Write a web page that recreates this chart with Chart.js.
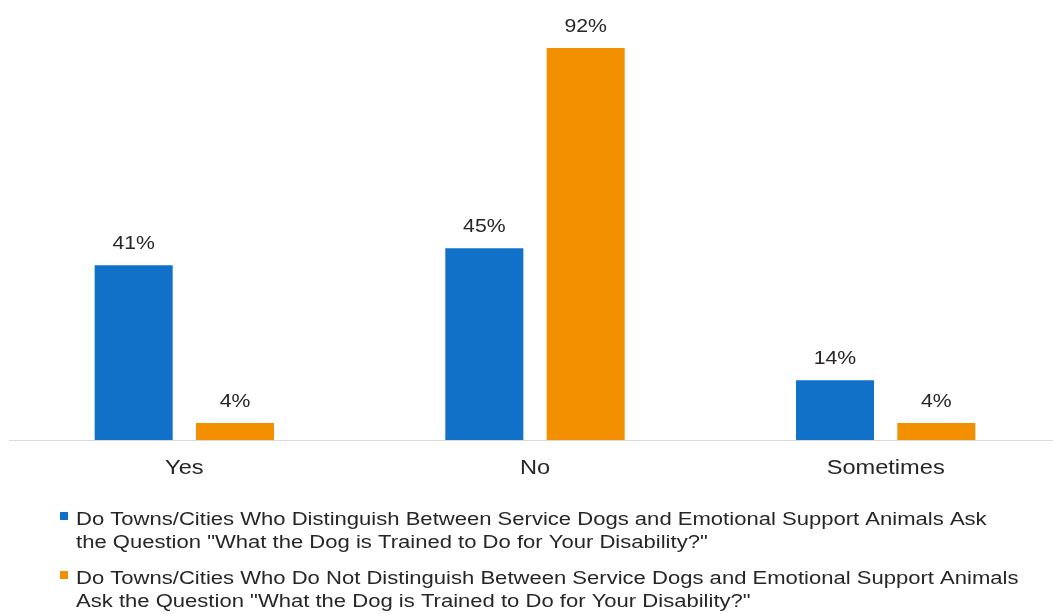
<!DOCTYPE html>
<html>
<head>
<meta charset="utf-8">
<script src="https://cdn.jsdelivr.net/npm/chart.js@4"></script>
<style>
  html, body { margin: 0; padding: 0; background: #ffffff; overflow: hidden; }
  #wrap { width: 1053px; height: 614px; overflow: hidden; position: relative; }
  canvas { display: block; }
</style>
</head>
<body>
<div id="wrap"><canvas id="chart" width="1062" height="614"></canvas></div>
<script>
// Survey answers, in percent
const categories = ['Yes', 'No', 'Sometimes'];
const distinguishValues = [41, 45, 14];
const notDistinguishValues = [4, 92, 4];

const seriesNames = [
  'Do Towns/Cities Who Distinguish Between Service Dogs and Emotional Support Animals Ask the Question "What the Dog is Trained to Do for Your Disability?"',
  'Do Towns/Cities Who Do Not Distinguish Between Service Dogs and Emotional Support Animals Ask the Question "What the Dog is Trained to Do for Your Disability?"'
];
// Legend text broken into display lines
const legendLines = [
  ['Do Towns/Cities Who Distinguish Between Service Dogs and Emotional Support Animals Ask',
   'the Question "What the Dog is Trained to Do for Your Disability?"'],
  ['Do Towns/Cities Who Do Not Distinguish Between Service Dogs and Emotional Support Animals',
   'Ask the Question "What the Dog is Trained to Do for Your Disability?"']
];

const BLUE = '#1170c8';
const ORANGE = '#f29000';
const TEXT = '#262626';
const FONT = '"Liberation Sans", Arial, sans-serif';
const SX = 1.18; // horizontal text stretch

function stretchedText(ctx, text, x, y, align, size) {
  ctx.save();
  ctx.font = size + 'px ' + FONT;
  ctx.fillStyle = TEXT;
  ctx.textAlign = align;
  ctx.textBaseline = 'alphabetic';
  ctx.translate(x, y);
  ctx.scale(SX, 1);
  ctx.fillText(text, 0, 0);
  ctx.restore();
}

// Percent labels above each bar
const valueLabels = {
  id: 'valueLabels',
  afterDatasetsDraw(chart) {
    const ctx = chart.ctx;
    chart.data.datasets.forEach((ds, i) => {
      chart.getDatasetMeta(i).data.forEach((bar, j) => {
        stretchedText(ctx, ds.data[j] + '%', bar.x, bar.y - 16, 'center', 18);
      });
    });
  }
};

// Category names under the axis
const categoryLabels = {
  id: 'categoryLabels',
  afterDraw(chart) {
    const xs = chart.scales.x;
    chart.data.labels.forEach((lab, i) => {
      stretchedText(chart.ctx, lab, xs.getPixelForValue(i), 474, 'center', 20);
    });
  }
};

// Two-line legend below the chart
const wrappedLegend = {
  id: 'wrappedLegend',
  afterDraw(chart) {
    const ctx = chart.ctx;
    chart.data.datasets.forEach((ds, i) => {
      const base = 525 + i * 59;
      ctx.fillStyle = ds.backgroundColor;
      ctx.fillRect(60, base - 13, 8, 8);
      legendLines[i].forEach((line, j) => {
        stretchedText(ctx, line, 76, base + j * 23, 'left', 18.7);
      });
    });
  }
};

new Chart(document.getElementById('chart'), {
  type: 'bar',
  data: {
    labels: categories,
    datasets: [
      { label: seriesNames[0], data: distinguishValues, backgroundColor: BLUE,
        barPercentage: 0.77, categoryPercentage: 0.578 },
      { label: seriesNames[1], data: notDistinguishValues, backgroundColor: ORANGE,
        barPercentage: 0.77, categoryPercentage: 0.578 }
    ]
  },
  options: {
    responsive: false,
    animation: false,
    layout: { padding: { top: 14, left: 9, right: 1, bottom: 174 } },
    plugins: { legend: { display: false }, tooltip: { enabled: false } },
    scales: {
      x: {
        grid: { display: false, drawTicks: false },
        border: { display: true, color: '#d9d9d9', width: 1 },
        ticks: { display: false }
      },
      y: { display: false, min: 0, max: 100 }
    }
  },
  plugins: [valueLabels, categoryLabels, wrappedLegend]
});
</script>
</body>
</html>
